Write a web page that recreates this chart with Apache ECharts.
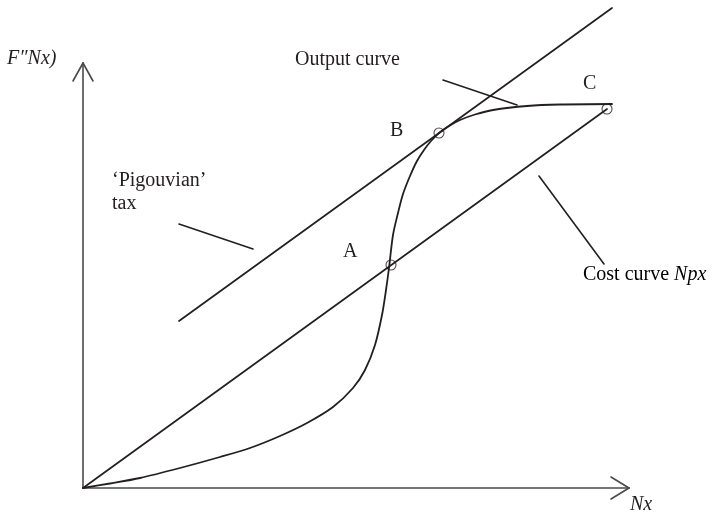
<!DOCTYPE html>
<html>
<head>
<meta charset="utf-8">
<script src="https://cdn.jsdelivr.net/npm/echarts@6/dist/echarts.min.js"></script>
<style>html,body{margin:0;padding:0;background:#fff}#c{width:714px;height:517px}</style>
</head>
<body>
<div id="c"></div>
<script>
// Diagram units: origin of the axes at (0,0)
var yAxisLine = [[0, 0], [0, 425]];
var yArrowLeft = [[-10, 407], [0, 425]];
var yArrowRight = [[0, 425], [10, 407]];
var xAxisLine = [[0, 0], [546, 0]];
var xArrowTop = [[528, 11], [546, 0]];
var xArrowBottom = [[546, 0], [528, -11]];
var costCurve = [[0, 0], [524, 379]];
var taxLine = [[96, 167], [529, 480]];
var outputCurve = [
  [0, 0], [27, 4.5], [57, 10], [97, 20], [137, 31], [167, 40], [197, 52], [224, 65],
  [250, 81], [270, 100], [282, 118], [292, 143], [299, 173], [303, 198], [306, 220],
  [310, 253], [315, 275], [320, 294], [327, 312], [334, 327], [341, 338], [348, 347],
  [356, 355], [366, 362], [377, 368], [392, 373.5], [410, 378], [444, 382],
  [477, 383.5], [529, 384]
];
var points = [[308, 223], [356, 355], [524, 379]];
var leaderOutput = [[360, 408], [434, 383]];
var leaderTax = [[96, 264], [170, 239]];
var leaderCost = [[456, 312], [521, 224]];

var ink = '#231f20';
var axisInk = '#4a4a4a';
var font = 'Liberation Serif';

function lineSeries(data, color, w, smooth) {
  return {
    type: 'line', data: data, symbol: 'none', silent: true, clip: false,
    smooth: smooth || false,
    lineStyle: { color: color, width: w, cap: 'round', join: 'round' }, z: 2
  };
}

var chart = echarts.init(document.getElementById('c'), null, { renderer: 'canvas' });
chart.setOption({
  animation: false,
  backgroundColor: '#fff',
  grid: { left: 0, right: 0, top: 0, bottom: 0 },
  xAxis: { type: 'value', min: -83, max: 631, show: false },
  yAxis: { type: 'value', min: -29, max: 488, show: false },
  series: [
    lineSeries(yAxisLine, axisInk, 1.6),
    lineSeries(yArrowLeft, axisInk, 1.6),
    lineSeries(yArrowRight, axisInk, 1.6),
    lineSeries(xAxisLine, axisInk, 1.6),
    lineSeries(xArrowTop, axisInk, 1.6),
    lineSeries(xArrowBottom, axisInk, 1.6),
    lineSeries(costCurve, ink, 1.7),
    lineSeries(taxLine, ink, 1.7),
    lineSeries(outputCurve, ink, 1.8, 0.3),
    lineSeries(leaderOutput, ink, 1.6),
    lineSeries(leaderTax, ink, 1.6),
    lineSeries(leaderCost, ink, 1.6),
    {
      type: 'scatter', data: points, symbol: 'circle', symbolSize: 10, silent: true, z: 3,
      itemStyle: { color: 'rgba(0,0,0,0)', borderColor: ink, borderWidth: 1.1 }
    }
  ],
  graphic: [
    { type: 'text', left: 7, top: 49, style: { text: 'F\u2033Nx)', font: 'italic 20px "' + font + '"', fill: ink } },
    { type: 'text', left: 630, top: 495, style: { text: 'Nx', font: 'italic 20px "' + font + '"', fill: ink } },
    { type: 'text', left: 295, top: 50, style: { text: 'Output curve', font: '20px "' + font + '"', fill: ink } },
    { type: 'text', left: 343, top: 242, style: { text: 'A', font: '20px "' + font + '"', fill: ink } },
    { type: 'text', left: 390, top: 121, style: { text: 'B', font: '20px "' + font + '"', fill: ink } },
    { type: 'text', left: 583, top: 74, style: { text: 'C', font: '20px "' + font + '"', fill: ink } },
    { type: 'text', left: 112, top: 171, style: { text: '\u2018Pigouvian\u2019', font: '20px "' + font + '"', fill: ink } },
    { type: 'text', left: 112, top: 194, style: { text: 'tax', font: '20px "' + font + '"', fill: ink } },
    { type: 'text', left: 583, top: 265, style: {
        text: '{n|Cost curve }{i|Npx}',
        rich: {
          n: { fontFamily: font, fontSize: 20, color: ink },
          i: { fontFamily: font, fontSize: 20, fontStyle: 'italic', color: ink }
        }
      } }
  ]
});
</script>
</body>
</html>
